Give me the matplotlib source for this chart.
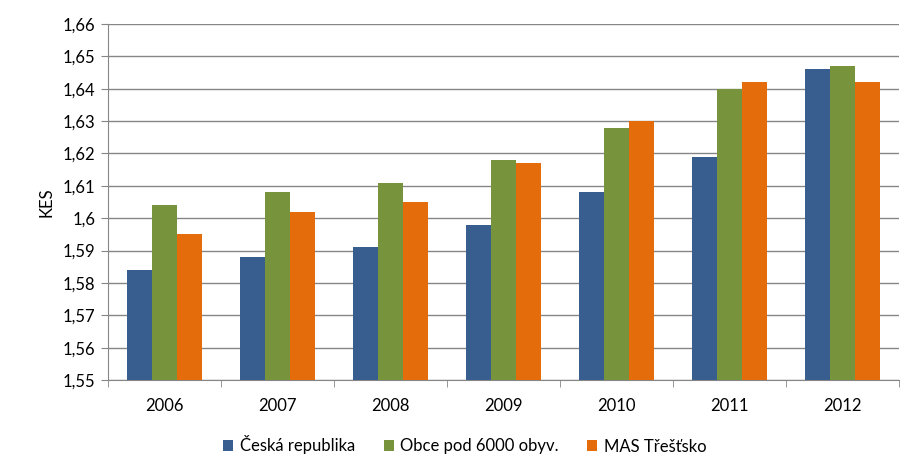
import numpy as np
import matplotlib.pyplot as plt
from matplotlib.ticker import FuncFormatter, MultipleLocator

plt.rcParams['font.family'] = ['Lato', 'DejaVu Sans']

# data
years = ["2006", "2007", "2008", "2009", "2010", "2011", "2012"]
cr = [1.584, 1.588, 1.591, 1.598, 1.608, 1.619, 1.646]
obce = [1.604, 1.608, 1.611, 1.618, 1.628, 1.640, 1.647]
mas = [1.595, 1.602, 1.605, 1.617, 1.630, 1.642, 1.642]
labels = ["Česká republika", "Obce pod 6000 obyv.", "MAS Třešťsko"]
colors = ["#375E8F", "#77933C", "#E46C0A"]

fig = plt.figure(figsize=(9.22, 4.75), dpi=100)
ax = fig.add_axes([108/922, 1 - 380/475, 791/922, 356/475])

x = np.arange(len(years))
w = 0.22
for i, (vals, lab, col) in enumerate(zip([cr, obce, mas], labels, colors)):
    ax.bar(x + (i - 1) * w, np.array(vals) - 1.55, bottom=1.55, width=w,
           color=col, label=lab, zorder=3)

ax.set_ylim(1.55, 1.66)
ax.set_xlim(-0.5, len(years) - 0.5)
ax.yaxis.set_major_locator(MultipleLocator(0.01))
ax.yaxis.set_major_formatter(FuncFormatter(
    lambda v, p: ("%.2f" % v).rstrip("0").rstrip(".").replace(".", ",")))
ax.grid(axis="y", color="#868686", linewidth=1, zorder=0)

ax.set_xticks(x)
ax.set_xticklabels(years)
ax.set_xticks(np.arange(-0.5, len(years)), minor=True)
ax.tick_params(axis="x", which="major", length=0, pad=13, labelsize=12)
ax.tick_params(axis="x", which="minor", length=5, color="#868686")
ax.tick_params(axis="y", length=5, color="#868686", labelsize=12, pad=4)

for s in ["top", "right"]:
    ax.spines[s].set_visible(False)
for s in ["left", "bottom"]:
    ax.spines[s].set_color("#868686")

ax.set_ylabel("KES", fontsize=12, labelpad=6)

fig.legend(loc="center", bbox_to_anchor=(465/922, 1 - 445/475), ncol=3,
           frameon=False, fontsize=12, handlelength=0.6, handleheight=0.6,
           columnspacing=1.7, handletextpad=0.4)

fig.savefig("out.png", dpi=100)
